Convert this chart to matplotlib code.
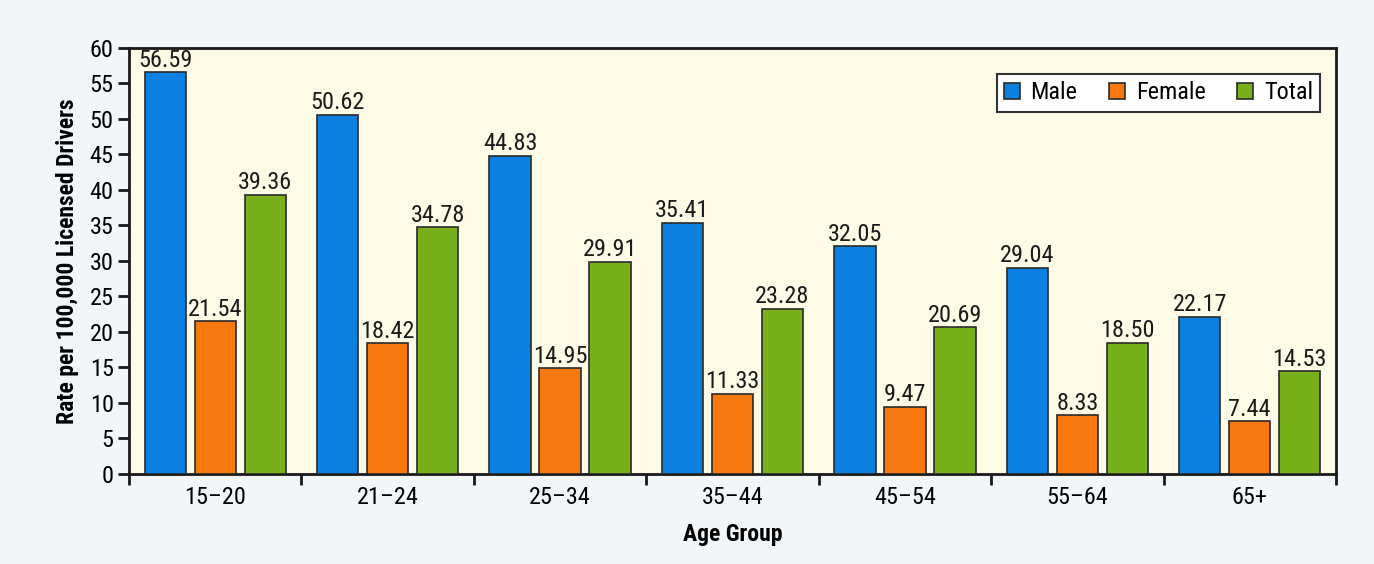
import matplotlib
matplotlib.use("Agg")
import matplotlib.pyplot as plt
import numpy as np
from matplotlib import font_manager

categories = ["15\u201320", "21\u201324", "25\u201334", "35\u201344", "45\u201354", "55\u201364", "65+"]
male = [56.59, 50.62, 44.83, 35.41, 32.05, 29.04, 22.17]
female = [21.54, 18.42, 14.95, 11.33, 9.47, 8.33, 7.44]
total = [39.36, 34.78, 29.91, 23.28, 20.69, 18.50, 14.53]
series_names = ["Male", "Female", "Total"]
colors = ["#0b80e0", "#f7780f", "#77b01a"]

names = {f.name for f in font_manager.fontManager.ttflist}
fam = "DejaVu Sans"
for cand in ["Roboto Condensed", "Archivo Narrow", "Liberation Sans Narrow", "Barlow Semi Condensed", "Asap Condensed"]:
    if cand in names:
        fam = cand
        break
plt.rcParams["font.family"] = [fam, "DejaVu Sans"]

fig = plt.figure(figsize=(13.74, 5.64), dpi=100, facecolor="#f3f6f9")
ax = fig.add_axes([0.0939, 0.1596, 0.8784, 0.7553])
ax.set_facecolor("#fdfbe6")

x = np.arange(len(categories))
w = 0.24
off = 0.29
for i, (vals, name, c) in enumerate(zip([male, female, total], series_names, colors)):
    bars = ax.bar(x + (i - 1) * off, vals, w, color=c, edgecolor="#2a2a2a", linewidth=1.2, label=name, zorder=3)
    for b, v in zip(bars, vals):
        ax.text(b.get_x() + b.get_width() / 2, v + 0.75, f"{v:.2f}", ha="center", va="baseline",
                fontsize=17.5, color="#1a1a1a", zorder=4)

ax.set_xlim(-0.5, len(categories) - 0.5)
ax.set_ylim(0, 60)
ax.set_yticks(np.arange(0, 61, 5))
ax.set_xticks(np.arange(-0.5, len(categories), 1.0))
ax.set_xticklabels([])
ax.set_xticks(x, minor=True)
ax.set_xticklabels(categories, minor=True, fontsize=17.5)
ax.tick_params(axis="x", which="minor", length=0, pad=9)
ax.tick_params(axis="x", which="major", length=8, width=2, direction="out", color="#1a1a1a")
ax.tick_params(axis="y", length=8, width=2, direction="out", labelsize=17.5, color="#1a1a1a", pad=3)

for s in ax.spines.values():
    s.set_linewidth(2)
    s.set_color("#1a1a1a")

ax.set_ylabel("Rate per 100,000 Licensed Drivers", fontsize=17, fontweight="bold", labelpad=8)
ax.set_xlabel("Age Group", fontsize=17, fontweight="bold", labelpad=10)

leg = ax.legend(loc="upper right", ncol=3, fontsize=17.5, frameon=True, fancybox=False,
                edgecolor="#333333", facecolor="white", framealpha=1,
                handlelength=0.65, handleheight=0.65, columnspacing=1.3, handletextpad=0.45,
                borderpad=0.3, borderaxespad=0, bbox_to_anchor=(0.987, 0.939))
leg.get_frame().set_linewidth(1.5)

fig.savefig("out.png", dpi=100, facecolor=fig.get_facecolor())
